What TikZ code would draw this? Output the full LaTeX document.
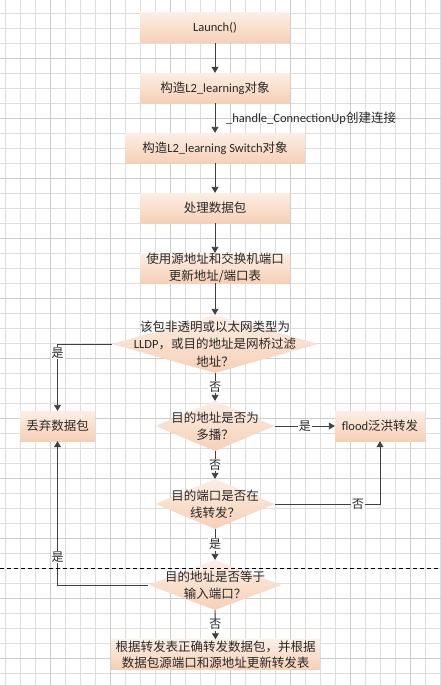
\documentclass[tikz,border=0pt]{standalone}
\usepackage{fontspec}
\setmainfont{Carlito}
\newfontfamily\cjk{Noto Sans CJK SC}
\usetikzlibrary{arrows.meta,shapes.geometric}
\newcommand{\zh}[1]{{\cjk #1}}
\definecolor{pkA}{RGB}{252,238,228}
\definecolor{pkB}{RGB}{246,208,182}
\definecolor{lnc}{RGB}{64,64,64}
\definecolor{txc}{RGB}{40,40,40}
\definecolor{gridc}{RGB}{222,222,222}
\definecolor{gridm}{RGB}{205,205,205}
\tikzset{
  box/.style={rectangle, inner sep=0pt, top color=pkA, bottom color=pkB, draw=none,
    text=txc, align=center, font=\fontsize{12.5}{16.5}\selectfont},
  dia/.style={diamond, inner sep=0pt, top color=pkA, bottom color=pkB, draw=none},
  diatext/.style={text=txc, align=center, inner sep=0pt, font=\fontsize{12.5}{17.5}\selectfont},
  conn/.style={draw=lnc, line width=0.9pt, -{Triangle[length=6pt,width=7pt]}},
  yn/.style={fill=white, inner sep=1pt, text=txc, font=\fontsize{12}{14}\selectfont},
  gline/.style={draw=gridc, line width=0.5pt},
  gmajor/.style={draw=gridm, line width=0.6pt},
}
\begin{document}
\begin{tikzpicture}[x=1pt,y=-1pt]
\useasboundingbox (0,0) rectangle (441,685);
\fill[white] (0,0) rectangle (441,685);
% grid
\foreach \i in {0,...,29} {
  \pgfmathsetmacro\xx{5+15*\i}
  \draw[gline] (\xx,0) -- (\xx,685);
}
\foreach \i in {0,...,44} {
  \pgfmathsetmacro\yy{13+15*\i}
  \draw[gline] (0,\yy) -- (441,\yy);
}
\foreach \i in {3,7,...,27} {
  \pgfmathsetmacro\xx{5+15*\i}
  \draw[gmajor] (\xx,0) -- (\xx,685);
}
\foreach \i in {3,7,...,43} {
  \pgfmathsetmacro\yy{13+15*\i}
  \draw[gmajor] (0,\yy) -- (441,\yy);
}

% nodes
\node[box, minimum width=150, minimum height=30] (launch) at (215,28) {Launch()};
\node[box, minimum width=150, minimum height=30] (l2obj) at (215,88) {\zh{构造}L2\_learning\zh{对象}};
\node[box, minimum width=180, minimum height=30] (sw) at (215,148) {\zh{构造}L2\_learning Switch\zh{对象}};
\node[box, minimum width=150, minimum height=30] (proc) at (215,208) {\zh{处理数据包}};
\node[box, minimum width=150, minimum height=30] (upd) at (215,268) {\zh{使用源地址和交换机端口}\\\zh{更新地址/端口表}};

\node[dia, minimum width=206, minimum height=58] (d1) at (215,344) {};
\node[diatext] (d1t) at (d1) {\zh{该包非透明或以太网类型为}\\LLDP\zh{，或目的地址是网桥过滤}\\\zh{地址？}};

\node[box, minimum width=75, minimum height=30] (drop) at (57.5,426) {\zh{丢弃数据包}};

\node[dia, minimum width=119, minimum height=50] (d2) at (215,426) {};
\node[diatext] (d2t) at (d2) {\zh{目的地址是否为}\\\zh{多播？}};

\node[box, minimum width=90, minimum height=30] (flood) at (380,426) {flood\zh{泛洪转发}};

\node[dia, minimum width=119, minimum height=50] (d3) at (215,504) {};
\node[diatext] (d3t) at (d3) {\zh{目的端口是否在}\\\zh{线转发？}};

\node[dia, minimum width=133, minimum height=50] (d4) at (215,585) {};
\node[diatext] (d4t) at (d4) {\zh{目的地址是否等于}\\\zh{输入端口？}};

\node[box, minimum width=209, minimum height=30] (final) at (215.5,654.5) {\zh{根据转发表正确转发数据包，并根据}\\\zh{数据包源端口和源地址更新转发表}};

% connectors
\draw[conn] (launch) -- (l2obj);
\draw[conn] (l2obj) -- (sw);
\node[anchor=west, inner sep=0pt, text=txc, font=\fontsize{12.5}{14}\selectfont] (conlbl) at (226,118) {\_handle\_ConnectionUp\zh{创建连接}};
\draw[conn] (sw) -- (proc);
\draw[conn] (proc) -- (upd);
\draw[conn] (upd) -- (d1.north);
\draw[conn] (d1.west) -| (drop.north) node[yn, pos=0.566] {\zh{是}};
\draw[conn] (d1.south) -- (d2.north) node[yn, midway] {\zh{否}};
\draw[conn] (d2.east) -- (flood.west) node[yn, midway] {\zh{是}};
\draw[conn] (d2.south) -- (d3.north) node[yn, midway] {\zh{否}};
\draw[conn] (d3.east) -| (flood.south) node[yn, pos=0.395] {\zh{否}};
\draw[conn] (d3.south) -- (d4.north) node[yn, midway] {\zh{是}};
\draw[conn] (d4.west) -| (drop.south) node[yn, pos=0.597] {\zh{是}};
\draw[conn] (d4.south) -- (final.north) node[yn, midway] {\zh{否}};

% dashed separator
\coordinate (sepL) at (0,568);
\coordinate (sepR) at (441,568);
\draw[black, line width=0.8pt, dash pattern=on 4pt off 3pt] (sepL) -- (sepR);
\end{tikzpicture}
\end{document}
